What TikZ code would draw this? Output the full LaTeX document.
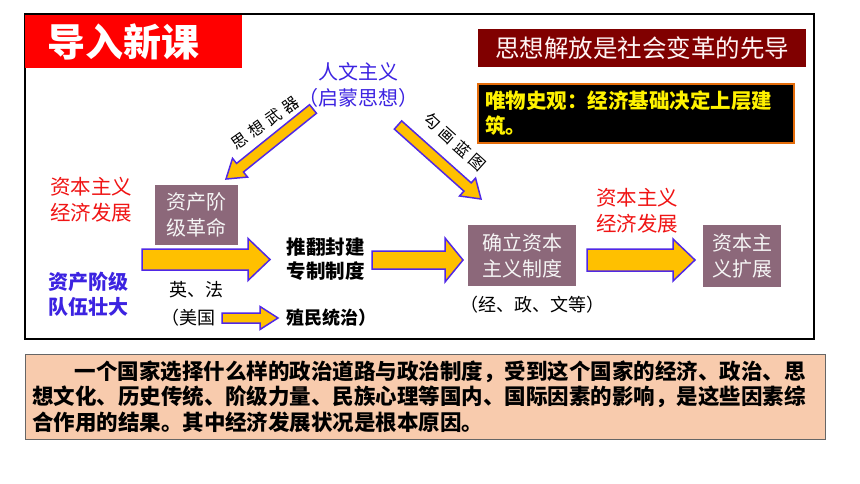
\documentclass[tikz,border=0pt]{standalone}
\usepackage{fontspec}
\setmainfont{Noto Sans CJK SC}
\usetikzlibrary{calc, positioning}
\usepackage{xcolor}
\definecolor{arrowfill}{RGB}{255,192,0}
\definecolor{arrowline}{RGB}{80,40,230}
\definecolor{boxmauve}{RGB}{140,104,122}
\definecolor{textblue}{RGB}{60,35,225}
\definecolor{textred}{RGB}{240,20,20}
\definecolor{slogan}{RGB}{128,0,0}
\definecolor{peach}{RGB}{248,203,173}
\definecolor{frameorange}{RGB}{228,108,10}

% block arrow: start, end, half shaft, half head, head length
\newcommand{\fatarrow}[5]{
	\coordinate (fa-h) at ($(#2)!#5!(#1)$);
	\draw[fat] ($(#1)!#3!90:(#2)$) -- ($(fa-h)!#3!90:(#2)$) -- ($(fa-h)!#4!90:(#2)$) -- (#2)
		-- ($(fa-h)!#4!-90:(#2)$) -- ($(fa-h)!#3!-90:(#2)$) -- ($(#1)!#3!-90:(#2)$) -- cycle;
}
\newcommand{\gap}{\hspace{4.5pt}}

\begin{document}
\begin{tikzpicture}[x=1pt,y=-1pt]
    \tikzstyle{fat}=[draw=arrowline, fill=arrowfill, line width=1.5pt, line join=miter]
    \tikzstyle{box}=[rectangle, fill=boxmauve, text=black!4, inner sep=0pt, align=center, font=\fontsize{20}{26}\selectfont]
    \tikzstyle{red note}=[text=textred, align=center, inner sep=0pt, font=\fontsize{20.5}{26}\selectfont]
    \tikzstyle{blue note}=[text=textblue, align=center, inner sep=0pt, font=\fontsize{20}{25}\selectfont\bfseries]
    \tikzstyle{note}=[align=center, inner sep=0pt, font=\fontsize{18}{22}\selectfont]
    \tikzstyle{bold note}=[align=center, inner sep=0pt, font=\fontsize{19.5}{24}\selectfont\bfseries]
    \tikzstyle{slant}=[inner sep=0pt, font=\fontsize{16}{18}\selectfont]

	\fill[white] (0,0) rectangle (860,484);
	\useasboundingbox (0,0) rectangle (860,484);
	\draw[line width=1.2pt] (25,14) rectangle (814,339);

	\node[fill=red, text=white, anchor=west, text width=173pt, inner xsep=22pt, inner ysep=0pt, minimum height=53pt, align=left, font=\fontsize{38}{40}\selectfont\bfseries] (T) at (25,41.5) {导入新课};
	\node[fill=slogan, text=red!4, minimum width=328pt, minimum height=38pt, inner sep=0pt, font=\fontsize{24.5}{26}\selectfont] (S) at (642,48) {思想解放是社会变革的先导};
	\node[fill=black, draw=frameorange, line width=1.5pt, text=yellow, text width=302pt, inner xsep=7pt, inner ysep=0pt, minimum height=59pt, align=left, font=\fontsize{20.5}{25}\selectfont\bfseries] (M) at (636,113.5) {唯物史观：经济基础决定上层建\\筑。};

	\node[text=textblue, align=center, inner sep=0pt, font=\fontsize{20}{26}\selectfont] (H) at (358,85) {人文主义\\（启蒙思想）};

	\node[red note] (E-1) at (91,200) {资本主义\\经济发展};
	\node[red note] (E-2) at (637,210.5) {资本主义\\经济发展};
	\node[blue note] (C) at (88.5,294.5) {资产阶级\\队伍壮大};

	\node[box, minimum width=83pt, minimum height=60pt] (R-1) at (196.5,215) {资产阶\\级革命};
	\node[box, minimum width=108pt, minimum height=61pt] (R-2) at (522,255.5) {确立资本\\主义制度};
	\node[box, minimum width=78pt, minimum height=62pt] (R-3) at (742,256) {资本主\\义扩展};

	\node[bold note] (F) at (325.5,259) {推翻封建\\专制制度};
	\node[note] (D) at (532,305) {（经、政、文等）};
	\node[note] (Y) at (196,290) {英、法};
	\node[note] (U) at (188,318) {（美国};
	\node[bold note, font=\fontsize{18}{22}\selectfont\bfseries] (K) at (331,318) {殖民统治）};

	% diagonal arrows from the top node
	\coordinate (a-1) at (313,109);
	\coordinate (b-1) at (226,179);
	\coordinate (a-2) at (398,125);
	\coordinate (b-2) at (481,199);
	\fatarrow{a-1}{b-1}{5.5pt}{12pt}{18pt}
	\fatarrow{a-2}{b-2}{5.5pt}{12pt}{18pt}
	\node[slant, rotate=35] (W-1) at (265,123) {思\gap 想\gap 武\gap 器};
	\node[slant, rotate=-42] (W-2) at (455,142) {勾\gap 画\gap 蓝\gap 图};

	\foreach \s/\e/\y/\w/\W/\l [count=\i] in {142/270/259.5/10.5/21/22, 372/463/260/9/22/18, 587/695/260/11/21/22, 222/278/318/5/11.5/18}{
		\coordinate (s-\i) at (\s,\y);
		\coordinate (e-\i) at (\e,\y);
		\fatarrow{s-\i}{e-\i}{\w pt}{\W pt}{\l pt}
	}

	\node[fill=peach, draw=black!60, line width=1pt, minimum width=800pt, minimum height=85pt, text width=786pt, inner xsep=7pt, inner ysep=0pt, align=left, font=\fontsize{21.5}{25.5}\selectfont\bfseries] (P) at (425,396.5) {\hspace*{2em}一个国家选择什么样的政治道路与政治制度，受到这个国家的经济、政治、思\\想文化、历史传统、阶级力量、民族心理等国内、国际因素的影响，是这些因素综\\合作用的结果。其中经济发展状况是根本原因。};
\end{tikzpicture}
\end{document}
